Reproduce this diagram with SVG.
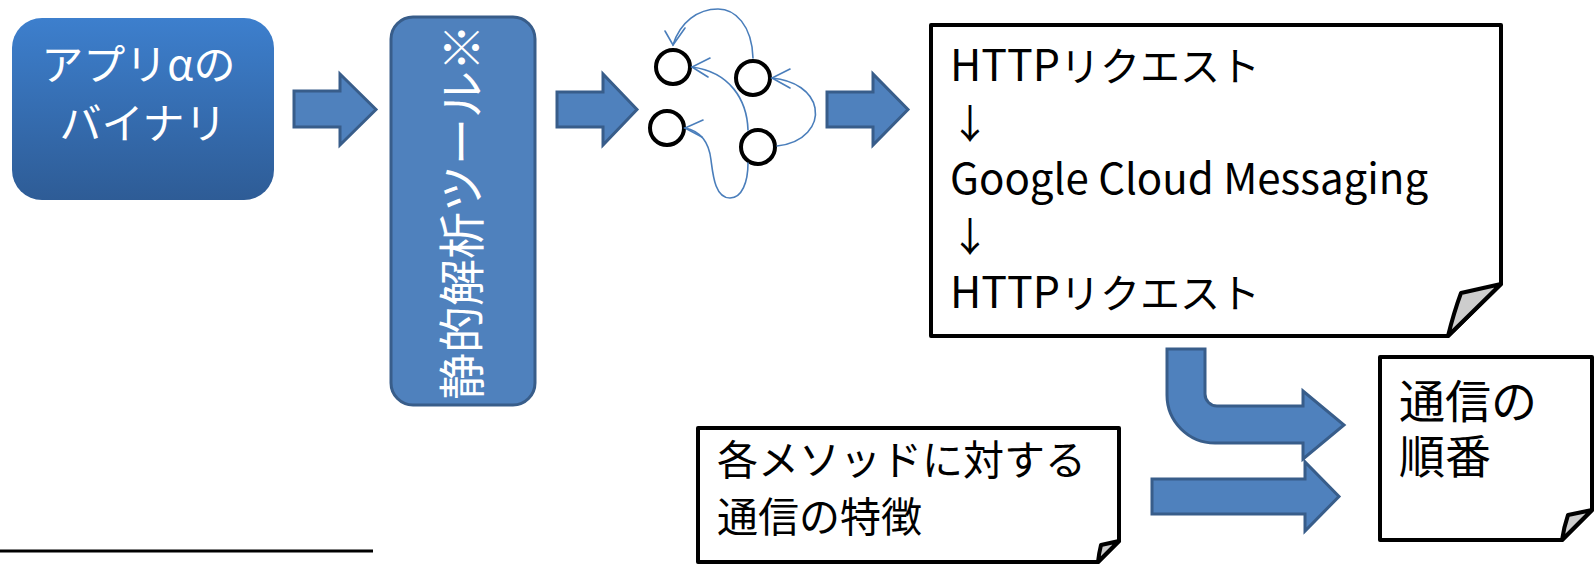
<svg xmlns="http://www.w3.org/2000/svg" width="1596" height="564" viewBox="0 0 1596 564">
  <defs>
    <linearGradient id="binGrad" x1="0" y1="0" x2="0" y2="1">
      <stop offset="0" stop-color="#3d7fcd"/>
      <stop offset="1" stop-color="#2e5c96"/>
    </linearGradient>
    <style>
      .jp { font-family: "Noto Sans CJK JP", "Noto Sans", sans-serif; }
      .wtxt { fill: #ffffff; }
      .btxt { fill: #000000; }
      .blk { fill: #4f81bd; stroke: #385d8a; stroke-width: 3; stroke-linejoin: miter; }
      .note { fill: #ffffff; stroke: #000000; stroke-width: 4; stroke-linejoin: round; }
      .flap { fill: #cdcdcd; stroke: #000000; stroke-width: 4; stroke-linejoin: round; }
      .node { fill: #ffffff; stroke: #000000; stroke-width: 4; }
      .edge { fill: none; stroke: #4a7ebb; stroke-width: 1.6; stroke-linecap: round; }
    </style>
  </defs>

  <rect width="1596" height="564" fill="#ffffff"/>

  <!-- application binary -->
  <g id="app-binary">
    <rect x="12" y="18" width="262" height="182" rx="30" fill="url(#binGrad)"/>
    <text class="jp wtxt" font-size="42" text-anchor="middle">
      <tspan x="143" y="80">アプリαの</tspan>
      <tspan x="143" y="139">バイナリ</tspan>
    </text>
  </g>

  <!-- static analysis tool (vertical label) -->
  <g id="static-tool">
    <rect x="391" y="17" width="144" height="388" rx="22" class="blk"/>
    <text class="jp wtxt" font-size="47" text-anchor="middle" transform="translate(462,212) rotate(-90)" y="17">静的解析ツール※</text>
  </g>

  <!-- call-graph icon -->
  <g id="call-graph">
    <circle cx="673" cy="67" r="17" class="node"/>
    <circle cx="753" cy="78" r="17" class="node"/>
    <circle cx="667" cy="128" r="17" class="node"/>
    <circle cx="758" cy="147" r="17" class="node"/>
    <path class="edge" d="M753,58 C752,25 735,9 718,9 C698,9 680,22 673,45"/>
    <path class="edge" d="M665,31 L673,45 L685,28"/>
    <path class="edge" d="M748,130 C747,100 730,72 692,67"/>
    <path class="edge" d="M710,58 L692,67 L708,77"/>
    <path class="edge" d="M777,146 C805,143 818,125 815,108 C812,92 795,80 772,78"/>
    <path class="edge" d="M790,69 L772,78 L790,88"/>
    <path class="edge" d="M748,163 C748,182 742,198 730,198 C715,198 713,175 711,160 C709,142 700,131 685,128"/>
    <path class="edge" d="M703,120 L685,128 L702,137"/>
  </g>

  <!-- HTTP / GCM sequence note -->
  <g id="http-sequence">
    <path class="note" d="M931,25 H1501 V284 L1448,336 H931 Z"/>
    <path class="flap" d="M1501,284 L1461,293 Q1454,312 1448,336 Z"/>
    <text class="jp btxt" font-size="40">
      <tspan x="950" y="81" font-size="43">HTTP</tspan><tspan>リクエスト</tspan>
      <tspan x="950" y="138">↓</tspan>
      <tspan x="950" y="194" font-size="42">Google Cloud Messaging</tspan>
      <tspan x="950" y="251">↓</tspan>
      <tspan x="950" y="308" font-size="43">HTTP</tspan><tspan>リクエスト</tspan>
    </text>
  </g>

  <!-- per-method traffic features -->
  <g id="method-features">
    <path class="note" d="M698,428 H1119 V541 L1098,562 H698 Z"/>
    <path class="flap" d="M1119,541 L1101,545 Q1099,553 1098,562 Z"/>
    <text class="jp btxt" font-size="41">
      <tspan x="717" y="475">各メソッドに対する</tspan>
      <tspan x="717" y="532">通信の特徴</tspan>
    </text>
  </g>

  <!-- traffic order -->
  <g id="traffic-order">
    <path class="note" d="M1380,357 H1592 V510 L1562,540 H1380 Z"/>
    <path class="flap" d="M1592,510 L1568,515 Q1564,527 1562,540 Z"/>
    <text class="jp btxt" font-size="46">
      <tspan x="1399" y="418">通信の</tspan>
      <tspan x="1399" y="473">順番</tspan>
    </text>
  </g>

  <!-- block arrows -->
  <g id="connectors">
    <path class="blk" d="M294,91 H340 V74 L376,109.5 L340,145 V127 H294 Z"/>
    <path class="blk" d="M557,92 H603 V74 L637,109.5 L603,145 V127 H557 Z"/>
    <path class="blk" d="M827,92 H873 V74 L908,109.5 L873,145 V127 H827 Z"/>
    <path class="blk" d="M1167,349 H1205 V394 A12,12 0 0 0 1217,406 H1303 V391 L1344,425 L1303,459 V443 H1215 A48,48 0 0 1 1167,395 Z"/>
    <path class="blk" d="M1152,479 H1305 V462 L1339,496.5 L1305,531 V514 H1152 Z"/>
  </g>

  <!-- footnote rule -->
  <line x1="0" y1="551" x2="373" y2="551" stroke="#000000" stroke-width="3"/>
</svg>
